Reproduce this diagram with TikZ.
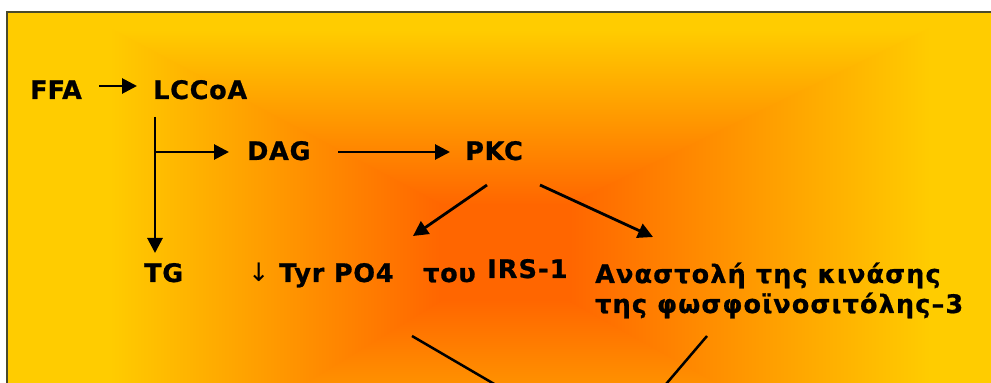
\documentclass[tikz,border=0pt]{standalone}
\usepackage{fontspec}
\setmainfont{DejaVu Sans}
\newfontfamily\plainlab{DejaVu Sans}[BoldFeatures={FakeBold=0.8}]
\newfontfamily\arrowlab{DejaVu Sans}
\newfontfamily\widelab{DejaVu Sans}[LetterSpace=3, BoldFeatures={FakeBold=0.8}]
\newfontfamily\widerlab{DejaVu Sans}[LetterSpace=4.5, BoldFeatures={FakeBold=0.8}]
\usetikzlibrary{arrows.meta}
\definecolor{sunyellow}{HTML}{FFCC00}
\definecolor{deeporange}{HTML}{FF6600}
\definecolor{frameline}{HTML}{4A4A2A}
\newcommand\labsize{\fontsize{25.5}{30}\selectfont}

\begin{document}
\begin{tikzpicture}[x=1pt,y=1pt,
  lbl/.style={inner sep=0pt, anchor=base west, font=\widelab\bfseries\labsize},
  tightlbl/.style={lbl, font=\plainlab\bfseries\labsize},
  widelbl/.style={lbl, font=\widerlab\bfseries\labsize},
  arr/.style={line width=2.8pt, -{Triangle[length=15pt,width=15pt]}},
  link/.style={line width=2.5pt}]
\clip (0,0) rectangle (991,383);
\fill[white] (0,0) rectangle (991,383);

% panel with a rectangular gradient: yellow rim, orange core
\fill[sunyellow] (7,-5) rectangle (996,371);
\begin{scope}
  \clip (110,353) -- (930,353) -- (570,178) -- (440,178) -- cycle;
  \shade[top color=sunyellow, bottom color=deeporange] (110,353) rectangle (930,178);
\end{scope}
\begin{scope}
  \clip (110,-117) -- (930,-117) -- (570,83) -- (440,83) -- cycle;
  \shade[top color=deeporange, bottom color=sunyellow] (110,83) rectangle (930,-117);
\end{scope}
\begin{scope}
  \clip (110,355) -- (441,179) -- (441,82) -- (110,-119) -- cycle;
  \shade[left color=sunyellow, right color=deeporange] (110,-119) rectangle (440,355);
\end{scope}
\begin{scope}
  \clip (930,355) -- (569,179) -- (569,82) -- (930,-119) -- cycle;
  \shade[left color=deeporange, right color=sunyellow] (570,-119) rectangle (930,355);
\end{scope}
\fill[deeporange] (439,82) rectangle (571,179);
\draw[frameline, line width=2pt] (7,-5) -- (7,371) -- (996,371);

% labels
\node[tightlbl] (ffa) at (30,284) {FFA};
\node[lbl] (lcc) at (153,284) {LCCoA};
\node[lbl] (dag) at (247,223) {DAG};
\node[lbl] (pkc) at (465,223) {PKC};
\node[lbl] (tg) at (144,101) {TG};
\node[lbl] (tyr) at (248,101) {{\arrowlab\mdseries ↓} Tyr PO4};
\node[lbl] (tou) at (423,101) {του};
\node[widelbl] (irs) at (487,105) {IRS-1};
\node[widelbl, align=left] (inh) at (595,70) {Αναστολή της κινάσης\\της φωσφοϊνοσιτόλης–3};

% pathway
\coordinate (fork) at (155,231);
\coordinate (sink) at (609,-68);
\draw[arr] ([xshift=69pt,yshift=13pt]ffa.base west) -- ([xshift=-16pt,yshift=13pt]lcc.base west);
\draw[arr] ([xshift=2pt,yshift=-18pt]lcc.base west) -- ([xshift=11pt,yshift=29pt]tg.base west);
\draw[arr] (fork) -- ([xshift=-18pt,yshift=8pt]dag.base west);
\draw[arr] ([xshift=91pt,yshift=8pt]dag.base west) -- ([xshift=-15pt,yshift=8pt]pkc.base west);
\draw[arr] ([xshift=22pt,yshift=-25pt]pkc.base west) -- ([xshift=-10pt,yshift=46pt]tou.base west);
\draw[arr] ([xshift=75pt,yshift=-25pt]pkc.base west) -- ([xshift=58pt,yshift=76pt]inh.base west);
\draw[link] ([xshift=-11pt,yshift=-54pt]tou.base west) -- (sink);
\draw[link] ([xshift=112pt,yshift=-23pt]inh.base west) -- (sink);
\end{tikzpicture}
\end{document}
